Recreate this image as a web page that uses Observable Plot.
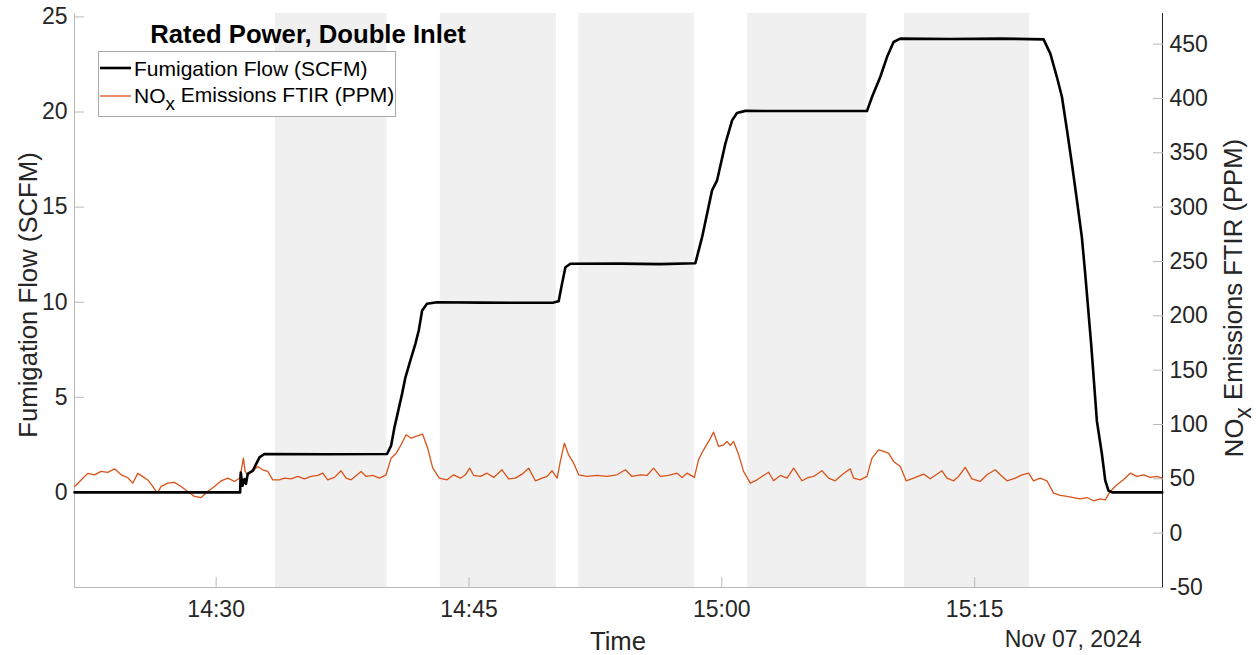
<!DOCTYPE html>
<html><head><meta charset="utf-8">
<script src="https://cdn.jsdelivr.net/npm/d3@7"></script>
<script src="https://cdn.jsdelivr.net/npm/@observablehq/plot@0.6"></script>
<style>
body{margin:0;background:#fff;}
#chart{position:relative;width:1256px;height:655px;}
</style></head><body><div id="chart"></div>
<script>
// ---- data (time = minutes after 14:00 on Nov 07, 2024) ----
const titleText = "Rated Power, Double Inlet";
const dateLabel = "Nov 07, 2024";
const xLabel = "Time";
const flowLabel = "Fumigation Flow (SCFM)";
const xTickLabels = ["14:30", "14:45", "15:00", "15:15"];
const leftTicks = [0, 5, 10, 15, 20, 25];
const rightTicks = [-50, 0, 50, 100, 150, 200, 250, 300, 350, 400, 450];

// steady-state windows (shaded)
const bandStart = [33.52, 43.30, 51.51, 61.53, 70.84];
const bandEnd   = [40.14, 50.18, 58.37, 68.61, 78.26];

// Fumigation flow (SCFM)
const flowMinutes = [21.60, 31.42, 31.46, 31.56, 31.68, 31.77, 31.87, 32.17, 32.37, 32.57,
  32.86, 36.50, 40.14, 40.38, 40.58, 41.03, 41.23, 41.52, 41.82, 42.02,
  42.22, 42.51, 43.11, 45.68, 48.05, 50.02, 50.32, 50.52, 50.72, 51.02,
  53.98, 56.35, 58.43, 58.83, 59.42, 59.72, 60.21, 60.61, 60.90, 61.39,
  64.66, 68.61, 68.91, 69.40, 69.80, 70.19, 70.59, 73.55, 76.52, 79.09,
  79.49, 79.88, 80.18, 80.48, 80.77, 81.07, 81.36, 81.56, 81.92, 82.25,
  82.55, 82.75, 82.94, 83.16, 86.13];
const flowValues = [0, 0, 1.05, 0.35, 0.70, 0.45, 0.97, 1.14, 1.49, 1.84,
  2.02, 2.01, 2.02, 2.46, 3.42, 5.18, 6.05, 6.93, 7.81, 8.51,
  9.56, 9.92, 10.00, 9.98, 9.97, 9.98, 10.05, 10.97, 11.84, 12.02,
  12.03, 12.00, 12.05, 13.42, 15.88, 16.41, 18.34, 19.56, 19.95, 20.06,
  20.05, 20.05, 20.79, 21.84, 22.89, 23.68, 23.86, 23.84, 23.86, 23.82,
  23.07, 21.84, 20.79, 19.04, 17.28, 15.35, 13.42, 11.49, 7.72, 3.77,
  2.02, 0.62, 0.09, 0, 0];

// NOx emissions FTIR (PPM)
const noxMinutes = [21.60, 21.99, 22.38, 22.78, 23.18, 23.57, 23.97, 24.37, 24.76, 25.05,
  25.35, 25.65, 25.94, 26.24, 26.50, 26.74, 27.13, 27.53, 27.92, 28.32,
  28.71, 29.11, 29.50, 29.90, 30.30, 30.69, 31.09, 31.38, 31.48, 31.62,
  31.72, 31.87, 32.17, 32.47, 32.76, 33.06, 33.36, 33.75, 34.05, 34.45,
  34.84, 35.24, 35.63, 36.03, 36.32, 36.62, 37.02, 37.41, 37.71, 38.01,
  38.60, 38.90, 39.29, 39.69, 40.08, 40.38, 40.68, 40.97, 41.27, 41.57,
  41.86, 42.25, 42.55, 42.85, 43.24, 43.70, 44.09, 44.49, 44.79, 45.04,
  45.28, 45.68, 46.07, 46.47, 46.96, 47.35, 47.75, 48.15, 48.54, 48.94,
  49.34, 49.63, 49.93, 50.23, 50.42, 50.66, 50.91, 51.21, 51.51, 52.00,
  52.60, 53.19, 53.78, 54.28, 54.67, 55.17, 55.56, 55.95, 56.35, 56.84,
  57.34, 57.64, 57.94, 58.37, 58.62, 58.92, 59.22, 59.51, 59.81, 60.11,
  60.31, 60.50, 60.70, 61.00, 61.29, 61.69, 62.09, 62.38, 62.78, 63.07,
  63.47, 63.87, 64.26, 64.76, 65.15, 65.45, 65.94, 66.34, 66.73, 67.13,
  67.62, 67.82, 68.21, 68.61, 68.91, 69.30, 69.60, 69.89, 70.19, 70.59,
  70.94, 71.38, 71.97, 72.37, 73.06, 73.36, 73.75, 74.05, 74.44, 74.84,
  75.33, 75.73, 76.22, 76.52, 76.92, 77.41, 77.81, 78.20, 78.49, 78.89,
  79.29, 79.68, 80.08, 80.48, 80.87, 81.26, 81.66, 82.05, 82.45, 82.75,
  83.04, 83.44, 83.83, 84.23, 84.63, 85.02, 85.42, 85.81, 86.13];
const noxValues = [43, 49, 55, 53.7, 56.8, 56, 59.2, 53.7, 51, 46,
  55, 52, 49, 43, 36.8, 43, 46, 46.7, 43, 38.4,
  33.8, 32.8, 38.4, 43, 48.2, 50.6, 47.6, 50.6, 56.8, 69,
  56.8, 53.7, 56.8, 61.4, 58.3, 56.8, 49.1, 49.1, 50.6, 50,
  52.2, 50, 52.2, 53.1, 55.2, 49.1, 51.3, 57.4, 50.6, 49.1,
  56.8, 52.2, 53.1, 50.6, 53.7, 69, 73.6, 81.3, 90.5, 87.4,
  89, 91.1, 78.2, 59.8, 50.6, 49.1, 53.7, 50.6, 53.7, 59.8,
  53.1, 52.2, 55.2, 51.3, 58.3, 50, 50.6, 54.3, 59.8, 48.2,
  50.6, 52.2, 57.4, 50.6, 66, 82.8, 72.1, 64.4, 53.7, 52.2,
  53.1, 52.2, 53.7, 58.3, 52.2, 53.7, 53.1, 59.8, 52.2, 53.1,
  55.2, 51.3, 55.2, 51.3, 67.5, 76.7, 84.4, 93, 79.8, 81.3,
  84.4, 80.7, 84.4, 72.1, 56.8, 46, 49.1, 52.2, 56.1, 48.2,
  53.1, 50.6, 59.8, 48.2, 51.3, 52.2, 57.4, 50.6, 48.2, 53.7,
  59.2, 50.6, 49.1, 52.2, 69, 76.7, 75.2, 73.6, 66, 61.4,
  48.2, 50.6, 54.3, 50, 57.4, 50.6, 48.2, 52.2, 60.5, 50,
  47.6, 53.7, 58.3, 53.7, 48.2, 50.6, 53.7, 55.2, 48.2, 50.6,
  48.2, 36.8, 34.7, 33.8, 32.8, 31.6, 32.8, 29.8, 31.6, 30.7,
  38.4, 44.5, 49.1, 55.2, 52.2, 53.7, 51.3, 52.2, 50.6];

// ---- scales / helpers ----
const FONT = "'Liberation Sans', Arial, Helvetica, sans-serif";
const TEXT = "#262626";
const ORANGE = "#D95319";
const AXISGREY = "#b9b9b9";
const t0 = new Date(2024, 10, 7, 14, 0, 0);
const toDate = m => new Date(t0.getTime() + m * 60000);
const xDomain = [toDate(21.596), toDate(86.145)];
const flowDomain = [-5, 25.18];
const noxDomain = [-50, 478.2];
// map NOx (ppm) onto the flow axis so that both share one y scale
const nox2flow = d3.scaleLinear().domain(noxDomain).range(flowDomain);

const flowData = flowMinutes.map((m, i) => ({t: toDate(m), v: flowValues[i]}));
const noxData = noxMinutes.map((m, i) => ({t: toDate(m), v: nox2flow(noxValues[i])}));
const bands = bandStart.map((s, i) => ({start: toDate(s), end: toDate(bandEnd[i])}));
const parseHM = d3.timeParse("%H:%M");
const xTicks = xTickLabels.map(s => { const p = parseHM(s); return new Date(2024, 10, 7, p.getHours(), p.getMinutes()); });
const rightTickPos = rightTicks.map(v => nox2flow(v));

const plot = Plot.plot({
  width: 1256, height: 655,
  marginLeft: 74, marginRight: 94, marginTop: 13, marginBottom: 68,
  style: {fontFamily: FONT, fontSize: "23px", color: TEXT, background: "white", overflow: "visible"},
  x: {type: "time", domain: xDomain},
  y: {domain: flowDomain},
  marks: [
    Plot.rect(bands, {x1: "start", x2: "end", fill: "#f0f0f0"}),
    Plot.ruleY([flowDomain[0]], {stroke: AXISGREY, strokeWidth: 1}),
    Plot.ruleX([xDomain[0]], {stroke: AXISGREY, strokeWidth: 1}),
    Plot.ruleX([xDomain[1]], {stroke: TEXT, strokeWidth: 1}),
    Plot.axisX(xTicks, {tickFormat: d3.timeFormat("%H:%M"), tickSize: 0, tickPadding: 13, label: null}),
    Plot.axisX(xTicks, {tickSize: 10, dy: -10, fill: "none", stroke: AXISGREY, label: null}),
    Plot.axisY(leftTicks, {anchor: "left", tickSize: 0, tickPadding: 7, tickFormat: d => String(d), label: null}),
    Plot.axisY(leftTicks, {anchor: "left", tickSize: 10, dx: 10, fill: "none", stroke: AXISGREY, label: null}),
    Plot.axisY(rightTickPos, {anchor: "right", tickSize: 0, tickPadding: 7, tickFormat: d => String(Math.round(nox2flow.invert(d))), label: null}),
    Plot.axisY(rightTickPos, {anchor: "right", tickSize: 10, dx: -10, fill: "none", stroke: AXISGREY, label: null}),
    Plot.line(noxData, {x: "t", y: "v", stroke: ORANGE, strokeWidth: 1.3}),
    Plot.line(flowData, {x: "t", y: "v", stroke: "black", strokeWidth: 2.6})
  ]
});
document.getElementById("chart").appendChild(plot);

// ---- annotations: title, legend, axis labels ----
const svg = d3.select(plot);
const g = svg.append("g").attr("font-family", FONT).attr("fill", TEXT).attr("text-anchor", "start");
g.append("text").attr("x", 308).attr("y", 43).attr("text-anchor", "middle")
  .attr("font-weight", "bold").attr("font-size", 25.7).attr("fill", "#000").text(titleText);

// legend
const lg = g.append("g");
lg.append("rect").attr("x", 98.5).attr("y", 51.5).attr("width", 297).attr("height", 65)
  .attr("fill", "white").attr("stroke", "#a8a8a8");
lg.append("line").attr("x1", 100).attr("x2", 131).attr("y1", 68).attr("y2", 68)
  .attr("stroke", "black").attr("stroke-width", 2.6);
lg.append("line").attr("x1", 100).attr("x2", 131).attr("y1", 96).attr("y2", 96)
  .attr("stroke", ORANGE).attr("stroke-width", 1.3);
lg.append("text").attr("x", 134).attr("y", 75.5).attr("text-anchor", "start")
  .attr("font-size", 21).attr("fill", "#000").text(flowLabel);
const t2 = lg.append("text").attr("x", 134).attr("y", 103).attr("text-anchor", "start")
  .attr("font-size", 21).attr("fill", "#000");
t2.append("tspan").text("NO");
t2.append("tspan").attr("dy", "0.35em").attr("font-size", 19).text("x");
t2.append("tspan").attr("dy", "-0.35em").text(" Emissions FTIR (PPM)");

// x label & date
g.append("text").attr("x", 618).attr("y", 650).attr("text-anchor", "middle").attr("font-size", 25.7).text(xLabel);
g.append("text").attr("x", 1141.5).attr("y", 647).attr("text-anchor", "end").attr("font-size", 23).text(dateLabel);

// left y label
g.append("text").attr("transform", "translate(37,295) rotate(-90)").attr("text-anchor", "middle")
  .attr("font-size", 25.7).text(flowLabel);
// right y label with subscript
const ry = g.append("text").attr("transform", "translate(1243,298) rotate(-90)").attr("text-anchor", "middle")
  .attr("font-size", 25.7);
ry.append("tspan").text("NO");
ry.append("tspan").attr("dy", "0.35em").attr("font-size", 23).text("x");
ry.append("tspan").attr("dy", "-0.35em").text(" Emissions FTIR (PPM)");
</script></body></html>
